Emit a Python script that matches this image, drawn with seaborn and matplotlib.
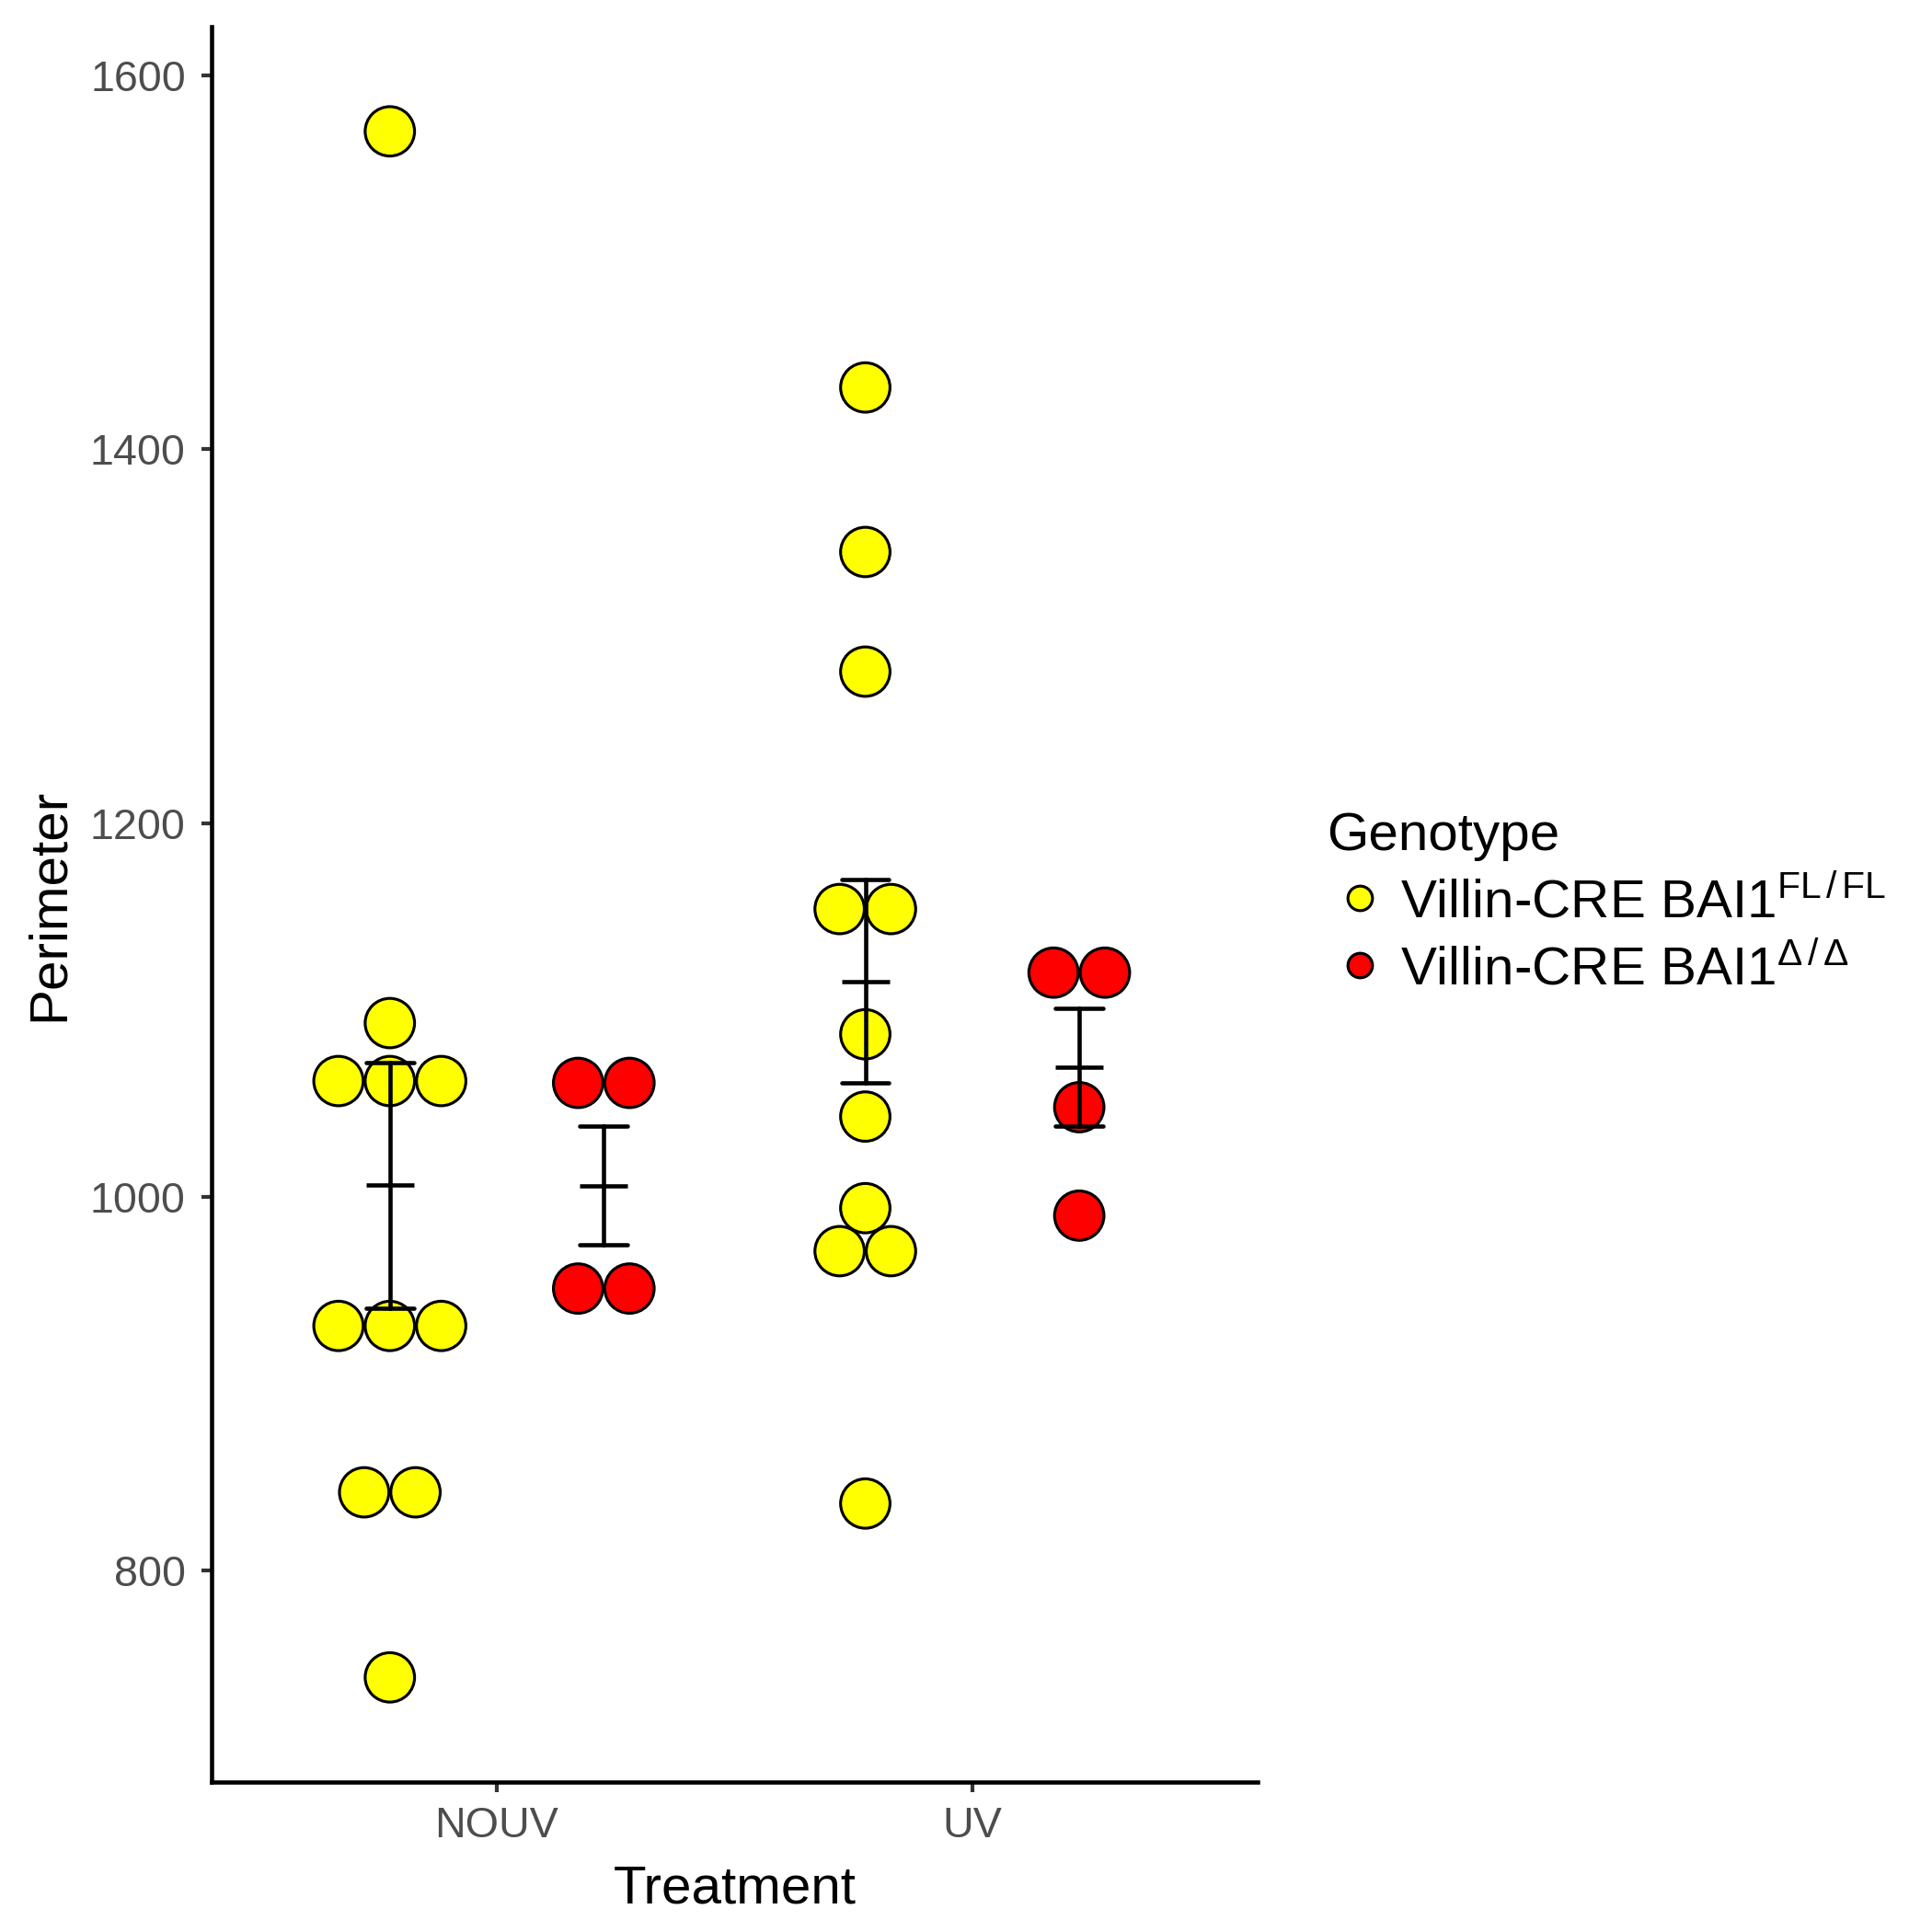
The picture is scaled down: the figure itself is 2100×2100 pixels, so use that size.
import numpy as np
import pandas as pd
import matplotlib
matplotlib.use("Agg")
import matplotlib.pyplot as plt
from matplotlib.lines import Line2D
import seaborn as sns

# ---- data ----
treatments = ["NOUV", "UV"]
genotypes = ["FL", "D"]
genotype_labels = [r"Villin-CRE BAI1$^{\mathregular{FL\,/\,FL}}$",
                   r"Villin-CRE BAI1$^{\mathregular{Δ\,/\,Δ}}$"]
genotype_colors = ["#FFFF00", "#FF0000"]

nouv_fl = [1570, 1093, 1062, 1062, 1062, 931, 931, 931, 842, 842, 743]
nouv_d = [1061, 1061, 951, 951]
uv_fl = [1433, 1345, 1281, 1154, 1154, 1087, 1043, 994, 971, 971, 836]
uv_d = [1120, 1120, 1048, 990]

rows = []
for t, g, vals in [("NOUV", "FL", nouv_fl), ("NOUV", "D", nouv_d),
                   ("UV", "FL", uv_fl), ("UV", "D", uv_d)]:
    for v in vals:
        rows.append({"Treatment": t, "Genotype": g, "Perimeter": v})
df = pd.DataFrame(rows)

# dotplot-style stacking: dodge by genotype, centre-stack equal values
dodge = 0.45
dot_step = 0.108
g_off = {g: -dodge / 2 + dodge * i / (len(genotypes) - 1) for i, g in enumerate(genotypes)}
xpos = np.zeros(len(df))
for (t, g, v), idx in df.groupby(["Treatment", "Genotype", "Perimeter"]).groups.items():
    n = len(idx)
    base = treatments.index(t) + g_off[g]
    for k, i in enumerate(idx):
        xpos[df.index.get_loc(i)] = base + (k - (n - 1) / 2) * dot_step
df["xpos"] = xpos

# ---- style ----
sns.set_theme(style="ticks")
plt.rcParams["font.family"] = ["Liberation Sans", "DejaVu Sans"]
plt.rcParams["text.color"] = "black"
plt.rcParams["axes.labelcolor"] = "black"
plt.rcParams["mathtext.fontset"] = "custom"
plt.rcParams["mathtext.rm"] = "Liberation Sans"
plt.rcParams["mathtext.it"] = "Liberation Sans:italic"
plt.rcParams["mathtext.bf"] = "Liberation Sans:bold"

fig = plt.figure(figsize=(7, 7), dpi=300)
ax = fig.add_axes([0.1095, 0.0776, 0.5414, 0.9086])

palette = dict(zip(genotypes, genotype_colors))
sns.scatterplot(data=df, x="xpos", y="Perimeter", hue="Genotype", palette=palette,
                hue_order=genotypes, s=166, edgecolor="black", linewidth=0.75,
                legend=False, ax=ax, zorder=2)

sns.pointplot(data=df, x="Treatment", y="Perimeter", hue="Genotype",
              order=treatments, hue_order=genotypes,
              palette={g: "black" for g in genotypes},
              estimator="mean", errorbar=("se", 1), dodge=dodge, capsize=0.1,
              linestyle="none", marker="_", markersize=12.4, markeredgewidth=1.1,
              err_kws={"linewidth": 1.1}, legend=False, ax=ax, zorder=3)

ax.set_xticks([0, 1])
ax.set_xticklabels(treatments)
ax.set_xlim(-0.6, 1.6)
ax.set_ylim(687, 1626)
ax.set_yticks([800, 1000, 1200, 1400, 1600])

for s in ["top", "right"]:
    ax.spines[s].set_visible(False)
for s in ["left", "bottom"]:
    ax.spines[s].set_linewidth(1.1)
    ax.spines[s].set_color("black")
ax.tick_params(axis="both", length=2.75, width=1.0, color="#333333",
               labelcolor="#4D4D4D", labelsize=11.2)
ax.tick_params(axis="x", pad=3.5)
ax.tick_params(axis="y", pad=4)

ax.set_xlabel("Treatment", fontsize=14, color="black")
ax.set_ylabel("Perimeter", fontsize=14, color="black")
ax.xaxis.set_label_coords(0.5, -0.047)
ax.yaxis.set_label_coords(-0.1315, 0.5)

handles = [Line2D([], [], marker="o", linestyle="none", markerfacecolor=c,
                  markeredgecolor="black", markeredgewidth=0.75, markersize=6.4)
           for c in genotype_colors]
leg = fig.legend(handles, genotype_labels, title="Genotype", loc="center left",
                 bbox_to_anchor=(0.6867, 0.5325), frameon=False, fontsize=14,
                 title_fontsize=14, handlelength=1.23, handletextpad=0.14,
                 borderpad=0, borderaxespad=0, labelspacing=0.3,
                 labelcolor="black")
leg.get_title().set_color("black")
leg._legend_box.align = "left"

fig.savefig("out.png", dpi=300, facecolor="white")
